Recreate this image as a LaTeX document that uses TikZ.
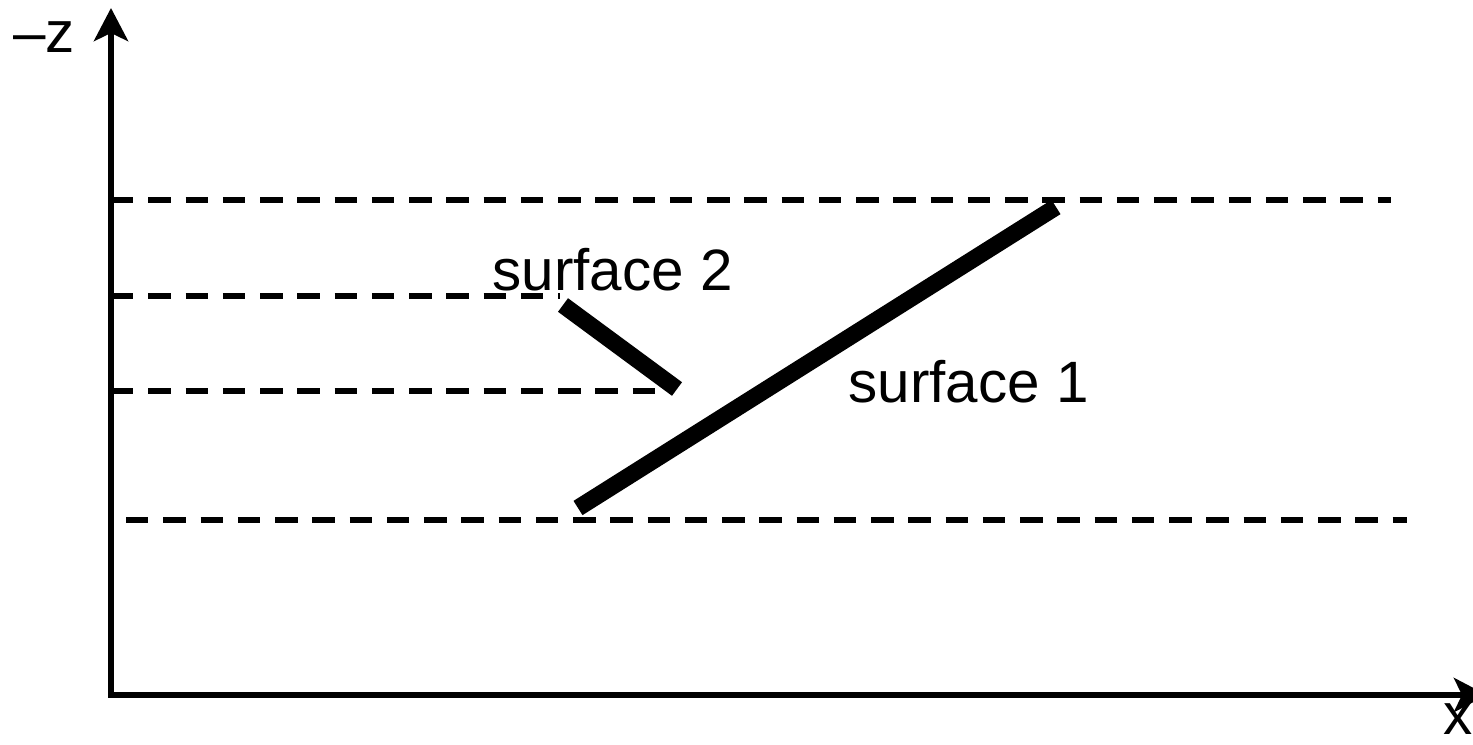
\documentclass[tikz,border=0pt]{standalone}
\usepackage{fontspec}
\setmainfont{Liberation Sans}
\usepackage{tikz}
\usetikzlibrary{arrows.meta}

\tikzset{
  axis/.style={line width=1.7pt,-{Stealth[length=0.33cm,width=0.34cm,inset=0.08cm]}},
  level/.style={line width=1.6pt,dash pattern=on 6.4pt off 4.2pt},
  surf/.style={line width=4.8pt},
  lab/.style={inner sep=0pt,font=\fontsize{16.6}{19}\selectfont}
}

\begin{document}
\begin{tikzpicture}
\useasboundingbox (0,0) rectangle (14.73,7.44);
\coordinate (origin) at (1.11,0.49);
\coordinate (ztip) at (1.11,7.36);
\coordinate (xtip) at (14.87,0.49);
      % axes
      \draw[axis] (origin) -- (ztip);
      \draw[axis] (1.08,0.49) -- (xtip);
      \node[lab] (zlab) at (0.44,7.07) {–z};
      \node[lab] (xlab) at (14.58,0.25) {x};
      % depth levels
      \draw[level] (1.11,5.44) -- (13.91,5.44);
      \draw[level] (1.11,4.48) -- (5.60,4.48);
      \draw[level] (1.11,3.53) -- (6.72,3.53);
      \draw[level] (1.26,2.24) -- (14.07,2.24);
      % the two surfaces
\coordinate (s1a) at (5.78,2.36);
\coordinate (s1b) at (10.56,5.37);
\coordinate (s2a) at (5.63,4.39);
\coordinate (s2b) at (6.77,3.55);
      \draw[surf] (s1a) -- (s1b);
      \draw[surf] (s2a) -- (s2b);
      \node[lab,anchor=base west] (surftwo) at (4.92,4.54) {surface 2};
      \node[lab,anchor=base west] (surfone) at (8.48,3.42) {surface 1};
\end{tikzpicture}
\end{document}
